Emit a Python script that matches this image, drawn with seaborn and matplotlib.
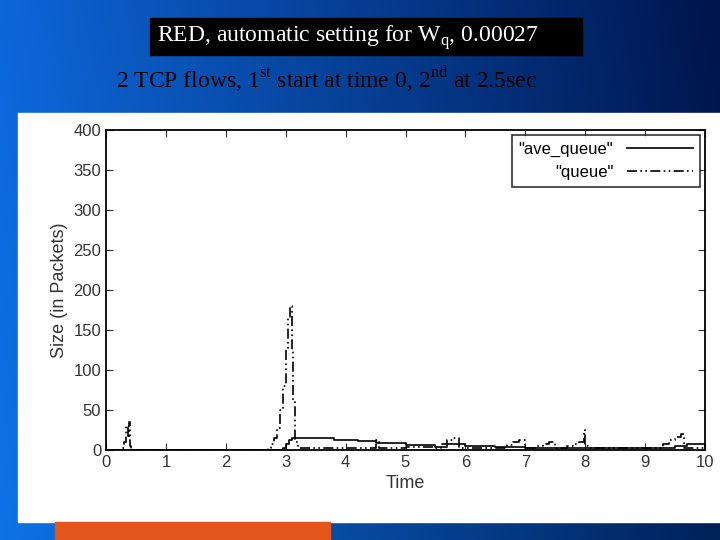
import numpy as np
import pandas as pd
import matplotlib
matplotlib.use("Agg")
from matplotlib import pyplot as plt
import seaborn as sns

# values
queue_t = [0.0, 0.2, 0.25, 0.3, 0.33, 0.36, 0.38, 0.4, 0.42, 2.6, 2.7, 2.75, 2.8, 2.85, 2.9, 2.95, 3.0, 3.04, 3.07,
           3.1, 3.13, 3.16, 3.2, 3.5, 4.0, 4.5, 4.55, 5.0, 5.5, 5.6, 5.7, 5.8, 5.9, 6.0, 6.6, 6.7, 6.8, 6.9,
           7.0, 7.2, 7.3, 7.4, 7.5, 7.7, 7.8, 7.9, 7.98, 8.0, 8.05, 8.3, 9.2, 9.3, 9.4, 9.5, 9.6, 9.65, 10.0]
queue_v = [0, 0, 3, 10, 30, 15, 35, 5, 0, 0, 3, 8, 15, 28, 50, 80, 125, 165, 180,
           125, 60, 10, 3, 2, 3, 12, 3, 4, 3, 8, 12, 15, 2, 3, 3, 6, 10, 12,
           3, 5, 8, 10, 3, 5, 8, 10, 25, 5, 3, 3, 3, 8, 12, 16, 20, 3, 5]
ave_t = [0.0, 2.9, 2.95, 3.0, 3.05, 3.1, 3.5, 3.8, 4.2, 4.5, 5.0, 5.5, 5.7, 6.0, 6.5, 7.0, 8.0, 9.0, 9.5, 9.7, 10.0]
ave_v = [0, 0, 3, 8, 12, 15, 15, 13, 11, 9, 6, 4, 7, 5, 4, 3, 3, 3, 5, 8, 5]

plt.rcParams['font.family'] = ['Liberation Sans', 'DejaVu Sans']
fig = plt.figure(figsize=(7.2, 5.4), dpi=100)

# slide background gradient
bg = fig.add_axes([0, 0, 1, 1])
gx = np.linspace(0, 1, 200)
gy = np.linspace(0, 1, 150)
X, Y = np.meshgrid(gx, gy)
r = 0.05 - 0.05 * X
g = 0.40 - 0.32 * X + 0.05 * Y
b = 0.85 - 0.55 * X + 0.05 * Y
bg.imshow(np.dstack([r, g, b]).clip(0, 1), aspect='auto', extent=[0, 720, 540, 0])
bg.add_patch(plt.Rectangle((18, 113), 702, 409, color='white'))
bg.add_patch(plt.Rectangle((55, 522), 275, 18, color='#e2561c'))
bg.add_patch(plt.Rectangle((150, 18), 432, 37, color='black'))
bg.text(157, 38, r"RED, automatic setting for W$_\mathregular{q}$, 0.00027", color='white', fontsize=17,
        family='Liberation Serif', va='center')
bg.text(116, 80, r"2 TCP flows, 1$^\mathregular{st}$ start at time 0, 2$^\mathregular{nd}$ at 2.5sec", color='black',
        fontsize=17, family='Liberation Serif', va='center')
bg.set_xlim(0, 720)
bg.set_ylim(540, 0)
bg.axis('off')

ax = fig.add_axes([106 / 720, 1 - 450 / 540, 599 / 720, 320 / 540])
sns.lineplot(x=ave_t, y=ave_v, drawstyle='steps-post', color='black', linewidth=1.2, ax=ax,
             label='"ave_queue"')
sns.lineplot(x=queue_t, y=queue_v, drawstyle='steps-post', color='black', linewidth=1.2, ax=ax,
             linestyle=(0, (6, 2, 1, 2, 1, 2)), label='"queue"')
ax.set_xlim(0, 10)
ax.set_ylim(0, 400)
ax.set_xticks(range(0, 11))
ax.set_yticks(range(0, 401, 50))
ax.set_xlabel("Time", fontsize=13, color='#333333')
ax.set_ylabel("Size (in Packets)", fontsize=13, color='#333333')
ax.tick_params(labelsize=12, direction='in', length=5, right=True, top=True, colors='#333333')
for s in ax.spines.values():
    s.set_linewidth(1.3)
leg = ax.legend(loc='upper right', fontsize=12, frameon=True, fancybox=False, edgecolor='black',
                handlelength=4, borderaxespad=0.3, markerfirst=False)
leg.get_frame().set_linewidth(1.2)

plt.savefig("out.png", dpi=100)
